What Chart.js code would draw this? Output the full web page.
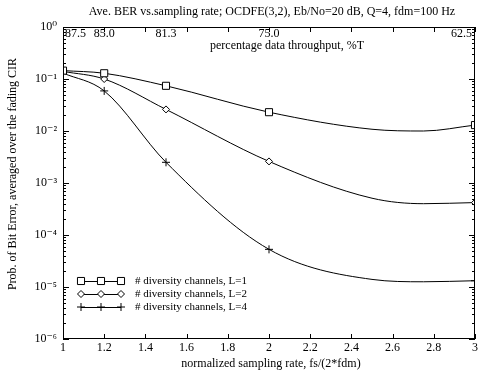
<!DOCTYPE html>
<html>
<head>
<meta charset="utf-8">
<script src="https://cdn.jsdelivr.net/npm/chart.js@4.4.0/dist/chart.umd.min.js"></script>
<style>
  html, body { margin: 0; padding: 0; background: #fff; }
</style>
</head>
<body>
<canvas id="berChart" width="481" height="376"></canvas>
<script>
// normalized sampling rate fs/(2*fdm)
const samplingRate = [1, 1.2, 1.5, 2, 2.5, 2.75, 3];
// points that carry a marker in the original plot
const markedPoints = [true, true, true, true, false, false, true];

// average BER for each number of diversity channels
const berL1 = [0.145, 0.129, 0.074, 0.023, 0.0108, 0.0100, 0.013];
const berL2 = [0.14, 0.100, 0.026, 0.0026, 0.00051, 0.0004, 0.00042];
const berL4 = [0.13, 0.059, 0.0025, 0.000053, 0.000014, 0.0000126, 0.0000132];
const seriesLabels = ["# diversity channels, L=1", "# diversity channels, L=2", "# diversity channels, L=4"];

// axis ticks
const xTicks = [1, 1.2, 1.4, 1.6, 1.8, 2, 2.2, 2.4, 2.6, 2.8, 3];
const yTicks = [1e-6, 1e-5, 1e-4, 1e-3, 1e-2, 1e-1, 1];
const throughputTicks = [1, 1.2, 1.5, 2, 3];
const throughputLabels = ["87.5", "85.0", "81.3", "75.0", "62.5"];

const serif = "'Liberation Serif', 'DejaVu Serif', serif";
Chart.defaults.font.family = serif;
Chart.defaults.color = "#000";

const supDigits = { "-": "\u207B", "0": "\u2070", "1": "\u00B9", "2": "\u00B2", "3": "\u00B3",
  "4": "\u2074", "5": "\u2075", "6": "\u2076", "7": "\u2077", "8": "\u2078", "9": "\u2079" };
function powerLabel(v) {
  const e = String(Math.round(Math.log10(v)));
  return "10" + e.split("").map((c) => supDigits[c]).join("");
}

function makeSeries(label, values, style, radius) {
  return {
    label: label,
    data: samplingRate.map((x, i) => ({ x: x, y: values[i] })),
    borderColor: "#000",
    backgroundColor: "#fff",
    borderWidth: 1,
    pointStyle: style,
    pointRadius: markedPoints.map((m) => (m ? radius : 0)),
    pointBorderWidth: 1,
    cubicInterpolationMode: "monotone",
  };
}

const datasets = [
  makeSeries(seriesLabels[0], berL1, "rect", 5),
  makeSeries(seriesLabels[1], berL2, "rectRot", 3.5),
  makeSeries(seriesLabels[2], berL4, "cross", 4),
];

function fixSize(prop, size) {
  return (scale) => {
    scale[prop] = size;
    scale.paddingLeft = 0;
    scale.paddingRight = 0;
    scale.paddingTop = 0;
    scale.paddingBottom = 0;
  };
}

// frame, inward ticks, axis titles and the legend inside the plot
const decorations = {
  id: "decorations",
  afterDraw(chart) {
    const ctx = chart.ctx;
    const a = chart.chartArea;
    const xs = chart.scales.x;
    const ys = chart.scales.y;
    ctx.save();
    ctx.strokeStyle = "#000";
    ctx.lineWidth = 1;
    ctx.strokeRect(a.left + 0.5, a.top + 0.5, a.right - a.left - 1, a.bottom - a.top - 1);

    ctx.beginPath();
    xTicks.forEach((v) => {
      const px = Math.round(xs.getPixelForValue(v)) + 0.5;
      ctx.moveTo(px, a.bottom);
      ctx.lineTo(px, a.bottom - 5);
      ctx.moveTo(px, a.top);
      ctx.lineTo(px, a.top + 5);
    });
    for (let d = -6; d < 0; d++) {
      for (let m = 1; m <= 9; m++) {
        const py = Math.round(ys.getPixelForValue(m * Math.pow(10, d))) + 0.5;
        const len = m === 1 ? 6 : 3;
        ctx.moveTo(a.left, py);
        ctx.lineTo(a.left + len, py);
        ctx.moveTo(a.right, py);
        ctx.lineTo(a.right - len, py);
      }
    }
    ctx.stroke();

    ctx.fillStyle = "#000";
    ctx.font = "12px " + serif;
    ctx.textBaseline = "middle";

    // top axis: percentage data throughput, labels just inside the frame
    const top = chart.scales.x2;
    throughputTicks.forEach((v, i) => {
      const px = top.getPixelForValue(v);
      if (i === 0) {
        ctx.textAlign = "left";
        ctx.fillText(throughputLabels[i], px + 2, a.top + 7);
      } else if (i === throughputTicks.length - 1) {
        ctx.textAlign = "right";
        ctx.fillText(throughputLabels[i], px - 3, a.top + 7);
      } else {
        ctx.textAlign = "center";
        ctx.fillText(throughputLabels[i], px, a.top + 7);
      }
    });

    ctx.textAlign = "center";
    ctx.fillText("Ave. BER vs.sampling rate; OCDFE(3,2), Eb/No=20 dB, Q=4, fdm=100 Hz", 272, 12);
    ctx.fillText("percentage data throughput, %T", 287, 46);
    ctx.fillText("normalized sampling rate, fs/(2*fdm)", 271, 364);
    ctx.save();
    ctx.translate(13, 174);
    ctx.rotate(-Math.PI / 2);
    ctx.fillText("Prob. of Bit Error, averaged over the fading CIR", 0, 0);
    ctx.restore();

    // legend
    const rows = [281, 294, 307];
    ctx.font = "11px " + serif;
    ctx.textAlign = "left";
    datasets.forEach((ds, i) => {
      const y = rows[i];
      ctx.beginPath();
      ctx.moveTo(81, y + 0.5);
      ctx.lineTo(121, y + 0.5);
      ctx.stroke();
      [81, 101, 121].forEach((x) => {
        ctx.fillStyle = "#fff";
        Chart.helpers.drawPoint(ctx, { pointStyle: ds.pointStyle, radius: ds.pointRadius[0], rotation: 0, borderWidth: 1 }, x, y);
      });
      ctx.fillStyle = "#000";
      ctx.fillText(ds.label, 135, y);
    });
    ctx.restore();
  },
};

new Chart(document.getElementById("berChart").getContext("2d"), {
  type: "line",
  data: { datasets: datasets },
  options: {
    responsive: false,
    devicePixelRatio: 1,
    animation: false,
    layout: { padding: { left: 0, right: 2, top: 0, bottom: 0 } },
    plugins: { legend: { display: false }, tooltip: { enabled: false }, title: { display: false } },
    scales: {
      x: {
        type: "linear",
        position: "bottom",
        min: 1,
        max: 3,
        afterBuildTicks: (s) => { s.ticks = xTicks.map((v) => ({ value: v })); },
        afterFit: fixSize("height", 37),
        grid: { display: false, drawTicks: false },
        border: { display: false },
        ticks: { autoSkip: false, maxRotation: 0, padding: 3, font: { size: 12, lineHeight: 1 }, callback: (v) => String(Math.round(v * 10) / 10) },
      },
      x2: {
        type: "linear",
        position: "top",
        min: 1,
        max: 3,
        afterBuildTicks: (s) => { s.ticks = throughputTicks.map((v) => ({ value: v })); },
        afterFit: fixSize("height", 27),
        grid: { display: false, drawTicks: false },
        border: { display: false },
        ticks: { display: false },
      },
      y: {
        type: "logarithmic",
        position: "left",
        min: 1e-6,
        max: 1,
        afterBuildTicks: (s) => { s.ticks = yTicks.map((v) => ({ value: v })); },
        afterFit: fixSize("width", 63),
        grid: { display: false, drawTicks: false },
        border: { display: false },
        ticks: { autoSkip: false, padding: 6, font: { size: 12, lineHeight: 1 }, callback: (v) => powerLabel(v) },
      },
    },
  },
  plugins: [decorations],
});
</script>
</body>
</html>
